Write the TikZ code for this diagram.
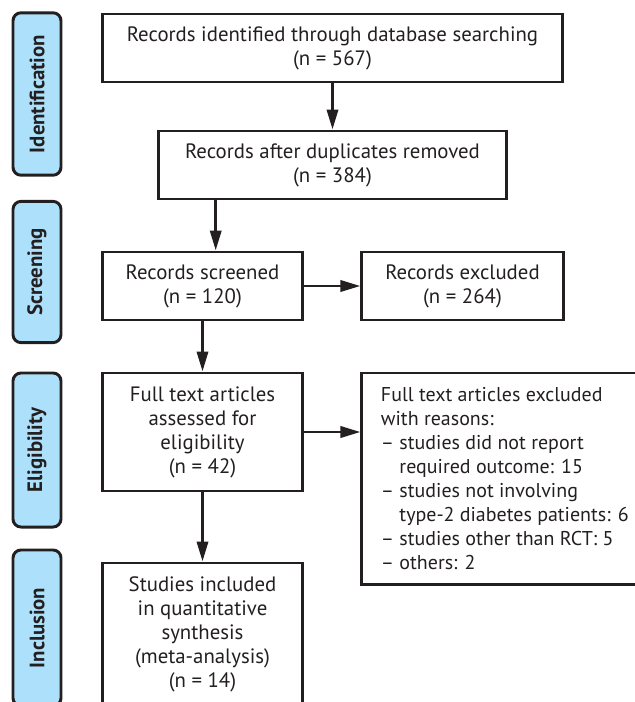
\documentclass[tikz,border=0pt]{standalone}
\usepackage{fontspec}
\setmainfont{PT Sans}
\usepackage{tikz}
\usetikzlibrary{arrows.meta,positioning,calc}
\definecolor{prismaink} {HTML}{231F20}
\definecolor{phaseblue} {HTML}{ADE0FA}
\newcommand{\hang}{\hphantom{– }}

\begin{document}
\begin{tikzpicture}[
  box/.style={draw=prismaink,line width=2.1pt,text=prismaink,align=center,
              inner sep=0pt,font=\fontsize{14.8}{17.07}\selectfont},
  phase/.style={draw=prismaink,fill=phaseblue,line width=2.1pt,
                rounded corners=0.2cm,rotate=90,minimum height=1.2cm,
                inner sep=0pt,text=prismaink,
                font=\fontsize{14.8}{17.07}\selectfont\bfseries},
  arr/.style={-{Triangle[length=0.5cm,width=0.28cm]},line width=2.1pt,
              draw=prismaink},
  x=0.025cm, y=-0.025cm
]
\clip (0,0) rectangle (635,702);

%% Phases (left column)
\node[phase,minimum width=4.06cm] (identification) at (37,94)  {Identification};
\node[phase,minimum width=3.53cm] (screening)      at (37,272) {Screening};
\node[phase,minimum width=3.85cm] (eligibility)    at (37,450) {Eligibility};
\node[phase,minimum width=3.9cm]  (inclusion)      at (37,628) {Inclusion};

%% Flow boxes
\node[box,minimum width=11.48cm,minimum height=1.7cm] (identified) at (332.5,48)
  {Records identified through database searching\\(n = 567)};
\node[box,minimum width=8.7cm,minimum height=1.7cm]   (deduped)    at (332.5,165)
  {Records after duplicates removed\\(n = 384)};
\node[box,minimum width=4.98cm,minimum height=1.7cm]  (screened)   at (202.5,286)
  {Records screened\\(n = 120)};
\node[box,minimum width=5.03cm,minimum height=1.7cm]  (excluded)   at (462.5,286)
  {Records excluded\\(n = 264)};
\node[box,minimum width=4.98cm,minimum height=2.95cm] (fulltext)   at (202.5,432)
  {Full text articles\\assessed for\\eligibility\\(n = 42)};
\node[box,minimum width=4.98cm,minimum height=3.55cm] (included)   at (202.5,634)
  {Studies included\\in quantitative\\synthesis\\(meta-analysis)\\(n = 14)};

%% Reasons box (right of full text, runs off the page)
\node[box,align=flush left,text width=6.8cm,inner xsep=0.475cm,
      minimum height=5.275cm,font=\fontsize{14.2}{17.07}\selectfont]
  (ftexcluded) at (517,478.5)
  {Full text articles excluded\\
   with reasons:\\
   – studies did not report\\
   \hang required outcome: 15\\
   – studies not involving\\
   \hang type-2 diabetes patients: 6\\
   – studies other than RCT: 5\\
   – others: 2};

%% Arrows
\draw[arr] (identified) -- (deduped);
\draw[arr] ([xshift=0.33cm]screened.north |- deduped.south)
  -- ([xshift=0.33cm]screened.north);
\draw[arr] (screened) -- (excluded);
\draw[arr] (screened) -- (fulltext);
\draw[arr] (fulltext) -- (fulltext -| ftexcluded.west);
\draw[arr] (fulltext) -- (included);

\end{tikzpicture}
\end{document}
